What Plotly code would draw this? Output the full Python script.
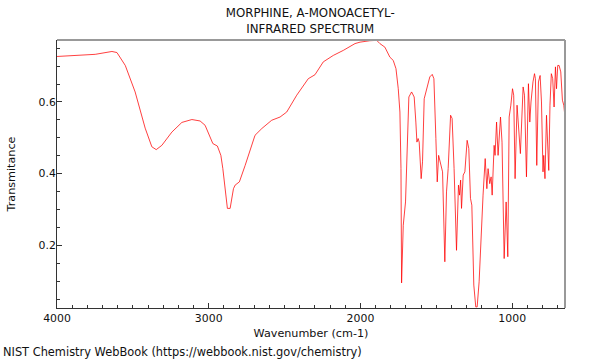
import plotly.graph_objects as go

# Wavenumber (cm-1) and transmittance
wavenumber = [
    4000, 3748, 3638, 3605, 3550, 3485, 3419, 3375, 3346, 3309, 3243, 3177, 3111, 3057,
    3024, 2973, 2943, 2920, 2907, 2892, 2877, 2859, 2837, 2826, 2798, 2760, 2695, 2650,
    2585, 2530, 2486, 2420, 2344, 2300, 2245, 2179, 2113, 2036, 2003, 1938, 1893, 1872,
    1839, 1806, 1784, 1766, 1751, 1740, 1733, 1729, 1718, 1703, 1692, 1681, 1663, 1646,
    1635, 1628, 1620, 1613, 1600, 1591, 1580, 1564, 1543, 1527, 1516, 1503, 1494, 1485,
    1472, 1459, 1444, 1433, 1422, 1406, 1396, 1383, 1367, 1354, 1347, 1340, 1334, 1323,
    1312, 1297, 1286, 1275, 1266, 1253, 1240, 1231, 1218, 1202, 1192, 1178, 1167, 1159,
    1148, 1139, 1132, 1119, 1113, 1103, 1093, 1077, 1067, 1053, 1040, 1029, 1020, 1009,
    998, 990, 981, 968, 957, 946, 928, 919, 906, 893, 884, 876, 863, 853, 847, 838, 827,
    816, 807, 797, 792, 784, 774, 768, 759, 751, 742, 733, 724, 715, 708, 700, 691, 680,
    669, 660, 651,
]
transmittance = [
    0.727, 0.733, 0.741, 0.738, 0.702, 0.628, 0.527, 0.475, 0.467, 0.479, 0.516, 0.543, 0.551, 0.547,
    0.535, 0.484, 0.477, 0.451, 0.414, 0.349, 0.303, 0.303, 0.358, 0.368, 0.377, 0.423, 0.507, 0.526,
    0.549, 0.558, 0.572, 0.619, 0.665, 0.676, 0.712, 0.730, 0.744, 0.763, 0.767, 0.771, 0.772, 0.763,
    0.753, 0.725, 0.716, 0.693, 0.637, 0.572, 0.415, 0.095, 0.256, 0.321, 0.461, 0.614, 0.628, 0.614,
    0.544, 0.488, 0.498, 0.488, 0.386, 0.433, 0.609, 0.637, 0.670, 0.677, 0.665, 0.498, 0.377, 0.451,
    0.423, 0.405, 0.154, 0.349, 0.414, 0.563, 0.554, 0.414, 0.186, 0.368, 0.340, 0.382, 0.303, 0.396,
    0.405, 0.493, 0.470, 0.331, 0.312, 0.089, 0.028, 0.028, 0.098, 0.256, 0.340, 0.442, 0.358, 0.414,
    0.372, 0.391, 0.340, 0.479, 0.451, 0.544, 0.451, 0.558, 0.488, 0.163, 0.321, 0.168, 0.558, 0.591,
    0.637, 0.619, 0.386, 0.591, 0.535, 0.456, 0.642, 0.619, 0.391, 0.651, 0.544, 0.600, 0.656, 0.679, 0.665, 0.423, 0.656,
    0.674, 0.600, 0.405, 0.451, 0.386, 0.563, 0.507, 0.409, 0.591, 0.679, 0.665, 0.586, 0.698, 0.637, 0.702, 0.702, 0.684,
    0.605, 0.591, 0.554,
]

x_ticks = [4000, 3000, 2000, 1000]
y_ticks = [0.2, 0.4, 0.6]

FONT = "DejaVu Sans"
TICK_SIZE = 10.9
LABEL_SIZE = 11.2

fig = go.Figure()
fig.add_trace(go.Scatter(
    x=wavenumber, y=transmittance, mode="lines",
    line=dict(color="rgba(255,0,0,0.75)", width=1),
    showlegend=False, hoverinfo="skip",
))

fig.update_layout(
    width=600, height=360,
    margin=dict(l=57, r=35, t=40, b=52),
    paper_bgcolor="white", plot_bgcolor="white",
    font=dict(family=FONT, size=12, color="#111"),
    title=dict(text="MORPHINE, A-MONOACETYL-<br>INFRARED SPECTRUM",
               x=0.517, xanchor="center", y=0.952, yanchor="top",
               font=dict(family=FONT, size=11.8, color="#111")),
    xaxis=dict(
        range=[4000, 652], showgrid=False, zeroline=False,
        tickmode="array", tickvals=x_ticks, ticktext=[str(v) for v in x_ticks],
        ticks="inside", ticklen=5, tickcolor="#333", tickwidth=1,
        showline=True, linecolor="#333", linewidth=1,
        minor=dict(dtick=100, tick0=0, ticks="inside", ticklen=3, tickcolor="#333", showgrid=False),
        title=dict(text="Wavenumber (cm-1)", standoff=5, font=dict(family=FONT, size=LABEL_SIZE)),
        tickfont=dict(family=FONT, size=TICK_SIZE),
    ),
    yaxis=dict(
        range=[0.025, 0.773], showgrid=False, zeroline=False,
        tickmode="array", tickvals=y_ticks, ticktext=["0.2", "0.4", "0.6"],
        ticks="inside", ticklen=5, tickcolor="#333", tickwidth=1,
        showline=True, linecolor="#333", linewidth=1,
        ticklabelstandoff=-2,
        minor=dict(dtick=0.05, tick0=0, ticks="inside", ticklen=3, tickcolor="#333", showgrid=False),
        title=dict(text="Transmitance", standoff=20, font=dict(family=FONT, size=LABEL_SIZE)),
        tickfont=dict(family=FONT, size=TICK_SIZE),
    ),
)

# grey top and right frame
fig.add_shape(type="line", xref="x domain", yref="y domain", x0=0, x1=1, y0=1, y1=1,
              line=dict(color="#999", width=2))
fig.add_shape(type="line", xref="x domain", yref="y domain", x0=1, x1=1, y0=0, y1=1,
              line=dict(color="#999", width=2))

fig.add_annotation(text="NIST Chemistry WebBook (https://webbook.nist.gov/chemistry)",
                   xref="paper", yref="paper", x=-0.110, y=-0.164, xanchor="left", yanchor="middle",
                   showarrow=False, font=dict(family=FONT, size=11.4, color="#111"))

fig.write_html("out.html", config={"displayModeBar": False},
               post_script="document.body.style.margin='0';")
